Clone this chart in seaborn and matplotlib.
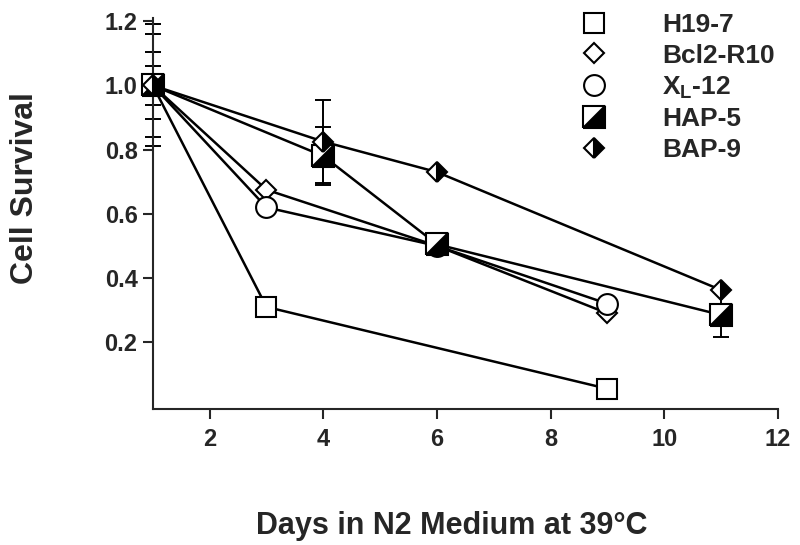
import matplotlib
matplotlib.use("Agg")
import matplotlib.pyplot as plt
from matplotlib.markers import MarkerStyle
from matplotlib.lines import Line2D
from matplotlib.transforms import Affine2D
import seaborn as sns
import pandas as pd

# data
series_names = ["H19-7", "Bcl2-R10", "XL-12", "HAP-5", "BAP-9"]
legend_labels = ["H19-7", "Bcl2-R10", r"X$_{\mathbf{L}}$-12", "HAP-5", "BAP-9"]

h19_days = [1, 3, 9]
h19_surv = [1.0, 0.31, 0.055]
h19_err = [0.19, 0, 0]

bcl2_days = [1, 3, 6, 9]
bcl2_surv = [1.0, 0.675, 0.50, 0.29]
bcl2_err = [0.16, 0, 0, 0]

xl_days = [1, 3, 6, 9]
xl_surv = [1.0, 0.62, 0.50, 0.32]
xl_err = [0.105, 0, 0, 0]

hap_days = [1, 4, 6, 11]
hap_surv = [1.0, 0.78, 0.505, 0.285]
hap_err = [0.062, 0.09, 0, 0.07]

bap_days = [1, 4, 6, 11]
bap_surv = [1.0, 0.825, 0.73, 0.3625]
bap_err = [0, 0.13, 0, 0]

x_ticks = [2, 4, 6, 8, 10, 12]
y_ticks = [0.2, 0.4, 0.6, 0.8, 1.0, 1.2]

df = pd.concat([
    pd.DataFrame({"line": "H19-7", "day": h19_days, "surv": h19_surv, "err": h19_err}),
    pd.DataFrame({"line": "Bcl2-R10", "day": bcl2_days, "surv": bcl2_surv, "err": bcl2_err}),
    pd.DataFrame({"line": "XL-12", "day": xl_days, "surv": xl_surv, "err": xl_err}),
    pd.DataFrame({"line": "HAP-5", "day": hap_days, "surv": hap_surv, "err": hap_err}),
    pd.DataFrame({"line": "BAP-9", "day": bap_days, "surv": bap_surv, "err": bap_err}),
], ignore_index=True)

sns.set_style("ticks")
plt.rcParams["font.family"] = ["Liberation Sans", "DejaVu Sans"]
plt.rcParams["font.weight"] = "bold"
plt.rcParams["mathtext.fontset"] = "custom"
plt.rcParams["mathtext.rm"] = "Liberation Sans:bold"
plt.rcParams["mathtext.bf"] = "Liberation Sans:bold"

half_square = MarkerStyle("D", fillstyle="right", transform=Affine2D().rotate_deg(-45))
half_diamond = MarkerStyle("D", fillstyle="right")

marker_styles = {
    "H19-7": dict(marker="s", markersize=15, markerfacecolor="white"),
    "Bcl2-R10": dict(marker="D", markersize=10.5, markerfacecolor="white"),
    "XL-12": dict(marker="o", markersize=15, markerfacecolor="white"),
    "HAP-5": dict(marker=half_square, markersize=15.5, markerfacecolor="black",
                  markerfacecoloralt="white"),
    "BAP-9": dict(marker=half_diamond, markersize=10.5, markerfacecolor="black",
                  markerfacecoloralt="white"),
}

fig = plt.figure(figsize=(8, 5.45), dpi=100)
ax = fig.add_axes([0.191, 0.2495, 0.9725 - 0.191, 0.967 - 0.2495])

# connecting lines
sns.lineplot(data=df, x="day", y="surv", hue="line", hue_order=series_names,
             palette=["black"] * 5, linewidth=1.8, legend=False, ax=ax,
             estimator=None, sort=True, zorder=2)

# error bars
err = df[df["err"] > 0]
ax.errorbar(err["day"], err["surv"], yerr=err["err"], fmt="none", ecolor="black",
            elinewidth=1.4, capsize=5.5, capthick=1.4, clip_on=False, zorder=1)

# markers
for name in series_names:
    sub = df[df["line"] == name]
    sns.lineplot(x=sub["day"].values, y=sub["surv"].values, ax=ax, color="black",
                 linestyle="none", markeredgecolor="black", markeredgewidth=1.5,
                 clip_on=False, zorder=3, **marker_styles[name])

ax.set_xlim(1, 12)
ax.set_ylim(-0.008, 1.21)
ax.set_xticks(x_ticks)
ax.set_yticks(y_ticks)
ax.set_xticklabels([str(t) for t in x_ticks])
ax.set_yticklabels([f"{t:.1f}" for t in y_ticks])
ax.tick_params(direction="out", length=7, width=1.5, labelsize=17, pad=4)
ax.tick_params(axis="x", pad=7)
for lab in ax.get_xticklabels() + ax.get_yticklabels():
    lab.set_fontweight("bold")
sns.despine(ax=ax)
for sp in ["left", "bottom"]:
    ax.spines[sp].set_linewidth(1.5)

ax.set_xlabel("Days in N2 Medium at 39\u00b0C", fontsize=22, fontweight="bold")
ax.set_ylabel("Cell Survival", fontsize=23, fontweight="bold")
ax.xaxis.set_label_coords(0.478, -0.262)
ax.yaxis.set_label_coords(-0.18, 0.565)

handles = []
for name in series_names:
    handles.append(Line2D([], [], linestyle="none", color="black",
                          markeredgecolor="black", markeredgewidth=1.5,
                          **marker_styles[name]))
fig.legend(handles, legend_labels, loc="upper left", bbox_to_anchor=(0.7225, 1 - 13 / 545),
           frameon=False, handlelength=1.2, handletextpad=2.0,
           labelspacing=0.25, borderpad=0, borderaxespad=0, prop={"weight": "bold", "size": 19})

fig.savefig("out.png", dpi=100)
